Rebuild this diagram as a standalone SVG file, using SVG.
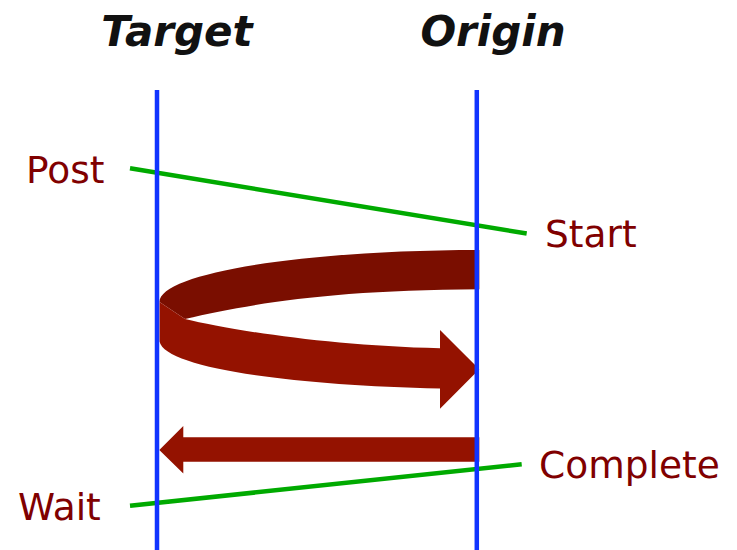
<svg xmlns="http://www.w3.org/2000/svg" width="737" height="550" viewBox="0 0 737 550">
<style>
.title{font-family:"DejaVu Sans",Verdana,sans-serif;font-weight:bold;font-style:italic;font-size:42px;fill:#111111;text-anchor:middle}
.lbl{font-family:"DejaVu Sans",Verdana,sans-serif;font-size:37.5px;fill:#800000}
.life{stroke:#1034ff;stroke-width:4.5;fill:none}
.msg{stroke:#00aa00;stroke-width:4.5;fill:none}
.dark{fill:#7a0e00}
.red{fill:#941200}
</style>
<rect width="737" height="550" fill="#ffffff"/>
<g id="target-title"><text class="title" x="177" y="46">Target</text></g>
<g id="origin-title"><text class="title" x="493" y="46">Origin</text></g>
<g id="connectors">
  <line class="msg" x1="130" y1="168.3" x2="526.7" y2="233.5"/>
  <line class="msg" x1="130" y1="505.7" x2="521.7" y2="464.3"/>
  <g id="loop-arrow">
    <path class="dark" d="M479.3,250 C302.5,250 159.5,273.3 159.5,302 L185,319 C250,304 330,290 479.3,289.3 Z"/>
    <path class="red" d="M159.5,302 L185,319 C230,330 330,346 440,348.3 L440,330 L479.3,369.3 L440,408.7 L440,388.5 C290,385 165,368 159.5,341.5 Z"/>
  </g>
  <path id="return-arrow" class="red" d="M479.3,437.3 L183.3,437.3 L183.3,426 L159.3,450 L183.3,473.5 L183.3,461.7 L479.3,461.7 Z"/>
</g>
<g id="target-line"><line class="life" x1="157" y1="90" x2="157" y2="550"/></g>
<g id="origin-line"><line class="life" x1="476.8" y1="90" x2="476.8" y2="550"/></g>
<g id="post"><text class="lbl" x="26" y="183">Post</text></g>
<g id="start"><text class="lbl" x="545" y="247">Start</text></g>
<g id="complete"><text class="lbl" x="539" y="478">Complete</text></g>
<g id="wait"><text class="lbl" x="18" y="520">Wait</text></g>
</svg>
